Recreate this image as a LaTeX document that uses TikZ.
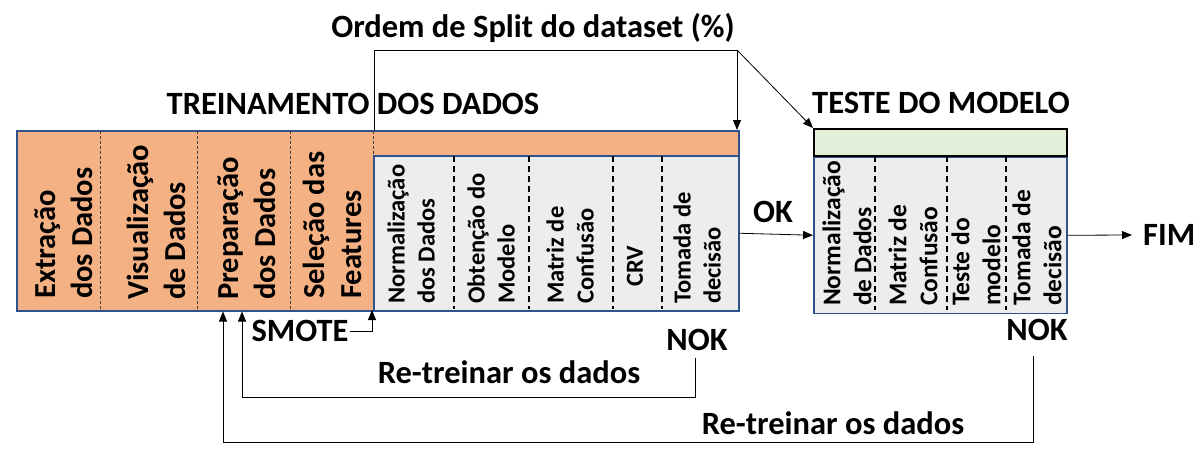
\documentclass[tikz,border=0pt]{standalone}
\usepackage{fontspec}
\setmainfont{Carlito}
\usetikzlibrary{arrows.meta,positioning}

\definecolor{laranja}{HTML}{F4B183}
\definecolor{verde}{HTML}{E2F0D9}
\definecolor{cinza}{HTML}{EDEDED}
\definecolor{azulborda}{HTML}{2F528F}

\tikzset{
  titulo/.style={font=\bfseries\fontsize{32.5}{38}\selectfont, inner sep=1pt},
  etapa/.style={font=\bfseries\fontsize{30.5}{37}\selectfont, rotate=90, anchor=west, align=left, inner sep=0pt},
  etapamod/.style={etapa, font=\bfseries\fontsize{24.5}{30}\selectfont},
  etapateste/.style={etapa, font=\bfseries\fontsize{25.5}{31}\selectfont},
  caixa/.style={draw=azulborda, line width=1.5pt, inner sep=0pt, minimum width=#1},
  divlar/.style={draw=black!75, line width=0.6pt, dash pattern=on 3pt off 2pt},
  divmod/.style={draw=black, line width=1.1pt, dash pattern=on 6pt off 4pt},
  seta/.style={draw=black, line width=0.8pt, -{Triangle[length=10pt,width=8pt]}},
  linha/.style={draw=black, line width=0.8pt}
}

\begin{document}
\begin{tikzpicture}[x=1pt, y=1pt]
    \useasboundingbox (0,0) rectangle (1202,-467);

    % Treinamento
    \node[caixa=722pt, fill=laranja, minimum height=180pt, anchor=north west] (treino) at (16,-130) {};
    \node[caixa=365pt, fill=cinza, minimum height=155pt, anchor=south east] (modelo) at (treino.south east) {};
    \node[titulo] (tituloTreino) at (353,-104) {TREINAMENTO DOS DADOS};

    \foreach \x in {100,197,290}
        \draw[divlar] (\x,-131) -- (\x,-309);
    \draw[divlar] (373,-131) -- (373,-155);
    \foreach \x in {454,529,613,662}
        \draw[divmod] (\x,-156) -- (\x,-309);

    \node[etapa] (extracao) at (64,-299) {Extração\\dos Dados};
    \node[etapa] (visualizacao) at (156,-300) {Visualização\\de Dados};
    \node[etapa] (preparacao) at (247,-300) {Preparação\\dos Dados};
    \node[etapa] (selecao) at (332,-299) {Seleção das\\Features};

    \node[etapamod] (normal) at (411,-304) {Normalização\\dos Dados};
    \node[etapamod] (obtencao) at (491,-304) {Obtenção do\\Modelo};
    \node[etapamod] (matriz) at (570,-304) {Matriz de\\Confusão};
    \node[etapamod] (crv) at (635,-287) {CRV};
    \node[etapamod] (tomada) at (697,-304) {Tomada de\\decisão};

    % Teste
    \node[caixa=253pt, draw=black, fill=verde, minimum height=27pt, anchor=north west] (faixa) at (813,-128) {};
    \node[caixa=253pt, fill=cinza, minimum height=156pt, below=0pt of faixa] (teste) {};
    \node[titulo] (tituloTeste) at (941,-103) {TESTE DO MODELO};

    \foreach \x in {875,947,1006}
        \draw[divmod] (\x,-156) -- (\x,-310);

    \node[etapateste] (normalT) at (847,-306) {Normalização\\de Dados};
    \node[etapateste] (matrizT) at (913,-306) {Matriz de\\Confusão};
    \node[etapateste] (testeT) at (976,-306) {Teste do\\modelo};
    \node[etapateste] (tomadaT) at (1037,-306) {Tomada de\\decisão};

    % Split
    \node[titulo] (ordem) at (533,-28) {Ordem de Split do dataset (\%)};
    \coordinate (ordemE) at (374,-50);
    \coordinate (ordemD) at (737,-50);
    \draw[seta] (ordemE |- treino.north) -- (ordemE) -- (ordemD) -- (ordemD |- treino.north);
    \draw[seta] (ordemD) -- (faixa.north west);

    % OK / FIM
    \node[titulo] (ok) at (773,-212) {OK};
    \draw[seta] (modelo.east) -- (teste.west);
    \node[titulo, anchor=west] (fim) at (1142,-235) {FIM};
    \draw[seta] (teste.east) -- ([xshift=-10pt]fim.west);

    % SMOTE
    \node[titulo] (smote) at (300,-331) {SMOTE};
    \coordinate (alvoSmote) at (372,-310);
    \draw[seta] (smote.east) -| (alvoSmote);

    % Re-treinar
    \node[titulo] (nok1) at (697,-340) {NOK};
    \node[titulo] (nok2) at (1037,-330) {NOK};
    \node[titulo] (retreino1) at (509,-372) {Re-treinar os dados};
    \node[titulo] (retreino2) at (833,-423) {Re-treinar os dados};
    \coordinate (volta1) at (242,-397);
    \coordinate (volta2) at (223,-442);
    \draw[seta, shorten <=6pt] ([xshift=-2pt]nok1.south) |- (volta1) -- (volta1 |- treino.south);
    \draw[seta, shorten <=14pt] ([xshift=-4pt]nok2.south) |- (volta2) -- (volta2 |- treino.south);
\end{tikzpicture}
\end{document}
